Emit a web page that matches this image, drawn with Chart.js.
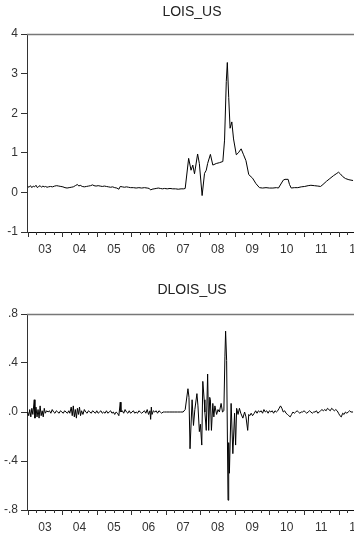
<!DOCTYPE html>
<html>
<head>
<meta charset="utf-8">
<script src="https://cdn.jsdelivr.net/npm/chart.js@4.4.1/dist/chart.umd.min.js"></script>
<style>
    html, body { margin: 0; padding: 0; background: #fff; width: 354px; height: 537px; overflow: hidden; }
    .panel { width: 384px; }
    canvas { display: block; }
</style>
</head>
<body>
<div class="panel"><canvas id="lois" width="384" height="268"></canvas></div>
<div class="panel"><canvas id="dlois" width="384" height="269"></canvas></div>
<script>
// LOIS_US (level)
const loisYears = [
    2003.00, 2003.04, 2003.08, 2003.12, 2003.16, 2003.20, 2003.24, 2003.28, 2003.32, 2003.36,
    2003.40, 2003.44, 2003.48, 2003.52, 2003.56, 2003.60, 2003.66, 2003.72, 2003.78, 2003.84,
    2003.90, 2003.96, 2004.02, 2004.08, 2004.14, 2004.20, 2004.26, 2004.32, 2004.38, 2004.44,
    2004.48, 2004.52, 2004.58, 2004.64, 2004.70, 2004.76, 2004.82, 2004.88, 2004.92, 2004.98,
    2005.04, 2005.10, 2005.16, 2005.22, 2005.28, 2005.34, 2005.40, 2005.46, 2005.52, 2005.58,
    2005.64, 2005.68, 2005.74, 2005.80, 2005.86, 2005.92, 2005.98, 2006.06, 2006.14, 2006.22,
    2006.30, 2006.38, 2006.46, 2006.52, 2006.56, 2006.60, 2006.66, 2006.72, 2006.78, 2006.84,
    2006.90, 2006.96, 2007.04, 2007.12, 2007.20, 2007.28, 2007.36, 2007.44, 2007.52,
    2007.56, 2007.66, 2007.73, 2007.78, 2007.83, 2007.92, 2007.97, 2008.05, 2008.12, 2008.17,
    2008.21, 2008.29, 2008.36, 2008.46, 2008.55, 2008.65, 2008.70, 2008.75, 2008.78, 2008.82,
    2008.86, 2008.91, 2008.96, 2009.04, 2009.10, 2009.18, 2009.25, 2009.32, 2009.40, 2009.51,
    2009.61, 2009.71, 2009.80, 2009.90, 2010.00, 2010.10, 2010.20, 2010.26, 2010.40, 2010.45,
    2010.54, 2010.58, 2010.63, 2010.72, 2010.82, 2010.92, 2011.02, 2011.12, 2011.20, 2011.30,
    2011.40, 2011.48, 2011.55, 2011.65, 2011.75, 2011.85, 2011.95, 2012.00, 2012.05, 2012.12,
    2012.20, 2012.30, 2012.42
];
const loisValues = [
    0.15, 0.13, 0.17, 0.12, 0.16, 0.14, 0.18, 0.12, 0.15, 0.17,
    0.13, 0.16, 0.14, 0.15, 0.13, 0.14, 0.15, 0.14, 0.16, 0.17,
    0.16, 0.15, 0.14, 0.12, 0.11, 0.12, 0.13, 0.14, 0.17, 0.20,
    0.16, 0.18, 0.15, 0.14, 0.15, 0.16, 0.17, 0.19, 0.17, 0.16,
    0.17, 0.16, 0.15, 0.16, 0.15, 0.14, 0.13, 0.14, 0.12, 0.11,
    0.08, 0.15, 0.14, 0.13, 0.14, 0.13, 0.12, 0.12, 0.11, 0.12,
    0.11, 0.12, 0.11, 0.10, 0.06, 0.08, 0.09, 0.10, 0.11, 0.10,
    0.09, 0.10, 0.09, 0.10, 0.09, 0.09, 0.08, 0.09, 0.09,
    0.10, 0.86, 0.56, 0.69, 0.47, 0.97, 0.73, -0.08, 0.48, 0.56,
    0.73, 0.96, 0.69, 0.73, 0.75, 0.78, 1.32, 2.80, 3.28, 2.40,
    1.62, 1.78, 1.35, 0.95, 1.00, 1.10, 0.95, 0.80, 0.45, 0.36,
    0.22, 0.12, 0.11, 0.12, 0.11, 0.11, 0.12, 0.11, 0.31, 0.33,
    0.33, 0.20, 0.11, 0.12, 0.12, 0.14, 0.15, 0.17, 0.18, 0.17,
    0.16, 0.15, 0.20, 0.28, 0.35, 0.42, 0.48, 0.51, 0.47, 0.40,
    0.35, 0.32, 0.30
];

// DLOIS_US (first difference)
const dloisYears = [
    2003.00, 2003.03, 2003.06, 2003.09, 2003.12, 2003.15, 2003.19, 2003.21, 2003.24, 2003.27,
    2003.30, 2003.33, 2003.36, 2003.39, 2003.42, 2003.45, 2003.48, 2003.51, 2003.55, 2003.59,
    2003.63, 2003.67, 2003.71, 2003.75, 2003.79, 2003.83, 2003.87, 2003.91, 2003.95, 2003.99,
    2004.03, 2004.07, 2004.11, 2004.15, 2004.19, 2004.22, 2004.26, 2004.29, 2004.32, 2004.35,
    2004.38, 2004.41, 2004.44, 2004.47, 2004.50, 2004.53, 2004.56, 2004.60, 2004.64, 2004.68,
    2004.72, 2004.76, 2004.80, 2004.84, 2004.88, 2004.92, 2004.96, 2005.00, 2005.04, 2005.08,
    2005.12, 2005.16, 2005.20, 2005.24, 2005.28, 2005.32, 2005.36, 2005.40, 2005.44, 2005.48,
    2005.52, 2005.56, 2005.60, 2005.64, 2005.68, 2005.70, 2005.74, 2005.78, 2005.82, 2005.86,
    2005.90, 2005.94, 2005.98, 2006.02, 2006.06, 2006.10, 2006.14, 2006.18, 2006.22, 2006.26,
    2006.30, 2006.34, 2006.38, 2006.42, 2006.46, 2006.50, 2006.54, 2006.56, 2006.58, 2006.60,
    2006.64, 2006.68, 2006.72, 2006.76, 2006.80, 2006.84, 2006.88, 2006.92, 2006.96, 2007.02,
    2007.10, 2007.18, 2007.26, 2007.34, 2007.42, 2007.50,
    2007.56, 2007.64, 2007.67, 2007.70, 2007.76, 2007.80, 2007.84, 2007.90, 2007.93, 2007.97,
    2008.00, 2008.04, 2008.07, 2008.11, 2008.13, 2008.17, 2008.21, 2008.24, 2008.27, 2008.29,
    2008.32, 2008.36, 2008.39, 2008.42, 2008.47, 2008.51, 2008.55, 2008.60, 2008.64, 2008.68,
    2008.71, 2008.73, 2008.76, 2008.80, 2008.82, 2008.84, 2008.89, 2008.94, 2008.99, 2009.02,
    2009.05, 2009.09, 2009.13, 2009.17, 2009.23, 2009.28, 2009.32, 2009.37, 2009.40, 2009.43,
    2009.47, 2009.51, 2009.56,
    2009.60, 2009.64, 2009.68, 2009.72, 2009.76, 2009.80, 2009.84, 2009.88, 2009.92, 2009.96,
    2010.00, 2010.04, 2010.08, 2010.12, 2010.16, 2010.20, 2010.24, 2010.28, 2010.32, 2010.36,
    2010.40, 2010.44, 2010.48, 2010.52, 2010.56, 2010.60, 2010.64, 2010.68, 2010.72, 2010.76,
    2010.80, 2010.84, 2010.88, 2010.92, 2010.96, 2011.00, 2011.04, 2011.08, 2011.12, 2011.16,
    2011.20, 2011.24, 2011.28, 2011.32, 2011.36, 2011.40, 2011.44, 2011.48, 2011.52, 2011.56,
    2011.60, 2011.64, 2011.68, 2011.72, 2011.76, 2011.80, 2011.84, 2011.88, 2011.92, 2011.96,
    2012.00, 2012.04, 2012.08, 2012.12, 2012.16, 2012.20, 2012.24, 2012.28, 2012.32, 2012.36,
    2012.42
];
const dloisValues = [
    0.00, -0.03, 0.02, -0.04, 0.03, -0.02, 0.10, -0.05, 0.04, -0.04,
    0.02, -0.05, 0.05, -0.03, 0.01, -0.04, 0.03, -0.01, 0.01, 0.00,
    0.01, -0.01, 0.02, 0.00, -0.01, 0.01, 0.00, -0.01, 0.01, 0.00,
    -0.01, 0.01, 0.00, -0.01, 0.01, -0.01, 0.04, -0.03, 0.05, -0.04,
    0.02, -0.05, 0.03, -0.02, 0.04, -0.03, 0.01, -0.02, 0.02, 0.00,
    -0.01, 0.01, 0.00, -0.01, 0.01, 0.00, -0.01, 0.01, -0.01, 0.00,
    0.01, -0.01, 0.00, -0.01, 0.01, -0.01, 0.00, 0.01, -0.01, 0.00,
    -0.02, 0.00, -0.01, -0.03, 0.08, 0.00, 0.01, -0.01, 0.02, 0.00,
    -0.01, 0.01, -0.01, 0.00, 0.01, -0.01, 0.00, -0.01, 0.01, 0.00,
    -0.01, 0.00, 0.01, -0.01, 0.02, -0.02, 0.01, -0.06, 0.04, -0.02,
    0.01, 0.00, 0.01, -0.01, 0.01, 0.00, -0.01, 0.00, 0.00, 0.00,
    0.00, 0.00, 0.00, 0.00, 0.00, 0.00,
    0.02, 0.19, 0.12, -0.30, 0.10, -0.11, 0.02, 0.15, 0.05, -0.16,
    -0.10, -0.27, 0.25, 0.10, 0.00, -0.15, 0.31, -0.15, 0.12, 0.10,
    -0.15, 0.07, -0.04, 0.05, -0.02, 0.02, 0.00, 0.07, 0.00, 0.01,
    0.45, 0.66, 0.42, -0.72, -0.25, -0.50, 0.07, -0.34, -0.01, -0.27,
    0.03, -0.02, 0.03, -0.01, -0.05, 0.00, -0.04, -0.15, -0.02, -0.03,
    -0.01, -0.03, -0.01,
    0.01, -0.01, 0.01, 0.00, 0.01, -0.01, 0.02, 0.00, 0.01, -0.01,
    0.01, 0.00, 0.01, -0.01, 0.01, 0.00, 0.01, 0.03, 0.05, 0.03,
    0.00, 0.01, -0.01, -0.02, -0.03, -0.04, -0.02, 0.00, -0.01, 0.00,
    0.01, 0.00, -0.01, 0.00, 0.00, 0.01, 0.00, -0.01, 0.00, 0.01,
    0.00, -0.01, 0.00, 0.00, 0.01, -0.01, 0.00, 0.01, 0.02, 0.01,
    0.02, 0.01, 0.03, 0.02, 0.01, 0.03, 0.02, 0.01, 0.02, 0.01,
    -0.01, -0.03, -0.04, -0.01, -0.02, 0.00, -0.01, 0.00, 0.01, 0.00,
    0.00
];

// Axis labels
const yearLabels = ['03', '04', '05', '06', '07', '08', '09', '10', '11', '12'];
const yearLabelPos = [2003.5, 2004.5, 2005.5, 2006.5, 2007.5, 2008.5, 2009.5, 2010.5, 2011.5, 2012.5];
const loisTicks = [-1, 0, 1, 2, 3, 4];
const loisTickLabels = ['-1', '0', '1', '2', '3', '4'];
const dloisTicks = [-0.8, -0.4, 0, 0.4, 0.8];
const dloisTickLabels = ['-.8', '-.4', '.0', '.4', '.8'];

Chart.defaults.font.family = "'Liberation Sans', Arial, sans-serif";

// title, grey top border and quarterly ticks (EViews style)
const framePlugin = {
    id: 'frame',
    afterDraw(chart, args, opts) {
        const { ctx, chartArea: a } = chart;
        const x = chart.scales.x;
        ctx.save();
        ctx.fillStyle = '#222';
        ctx.font = "14px 'Liberation Sans', Arial, sans-serif";
        ctx.textAlign = 'center';
        ctx.textBaseline = 'middle';
        ctx.fillText(opts.text, chart.width / 2, opts.titleY);

        ctx.strokeStyle = '#777';
        ctx.lineWidth = 1.5;
        ctx.beginPath();
        ctx.moveTo(a.left, a.top + 0.5);
        ctx.lineTo(a.right, a.top + 0.5);
        ctx.stroke();

        ctx.strokeStyle = '#333';
        ctx.lineWidth = 1;
        ctx.beginPath();
        for (let q = 2003; q <= 2012.5; q += 0.25) {
            const px = Math.round(x.getPixelForValue(q)) + 0.5;
            const len = Number.isInteger(q) ? 5 : 3;
            ctx.moveTo(px, a.bottom);
            ctx.lineTo(px, a.bottom + len);
        }
        ctx.stroke();
        ctx.restore();
    }
};

function createPanel(canvasId, title, titleY, years, values, ticks, tickLabels, yMin, yMax, padTop, xHeight) {
    const ctx = document.getElementById(canvasId).getContext('2d');
    return new Chart(ctx, {
        type: 'line',
        data: {
            datasets: [{
                data: years.map((t, i) => ({ x: t, y: values[i] })),
                borderColor: '#000',
                borderWidth: 1,
                pointRadius: 0,
                tension: 0,
                fill: false
            }]
        },
        options: {
            responsive: false,
            devicePixelRatio: 1,
            animation: false,
            layout: { padding: { top: padTop, right: 27.5, left: 0, bottom: 0 } },
            plugins: {
                legend: { display: false },
                tooltip: { enabled: false },
                frame: { text: title, titleY: titleY }
            },
            scales: {
                x: {
                    type: 'linear',
                    min: 2002.98,
                    max: 2012.52,
                    afterBuildTicks: s => { s.ticks = yearLabelPos.map(v => ({ value: v })); },
                    afterFit: s => { s.height = xHeight; },
                    grid: { display: false, drawTicks: false },
                    border: { display: true, color: '#111', width: 1 },
                    ticks: {
                        autoSkip: false,
                        maxRotation: 0,
                        padding: 10,
                        color: '#333',
                        font: { size: 12 },
                        callback: (v, i) => yearLabels[i]
                    }
                },
                y: {
                    type: 'linear',
                    min: yMin,
                    max: yMax,
                    afterBuildTicks: s => { s.ticks = ticks.map(v => ({ value: v })); },
                    afterFit: s => { s.width = 27; },
                    grid: { display: true, drawOnChartArea: false, drawTicks: true, tickLength: 6, color: '#333' },
                    border: { display: true, color: '#333', width: 1 },
                    ticks: {
                        padding: 3,
                        color: '#333',
                        font: { size: 12 },
                        callback: (v, i) => tickLabels[i]
                    }
                }
            }
        },
        plugins: [framePlugin]
    });
}

createPanel('lois', 'LOIS_US', 12.5, loisYears, loisValues, loisTicks, loisTickLabels, -1, 4, 34, 36);
createPanel('dlois', 'DLOIS_US', 22.5, dloisYears, dloisValues, dloisTicks, dloisTickLabels, -0.8, 0.8, 46, 27);
</script>
</body>
</html>
